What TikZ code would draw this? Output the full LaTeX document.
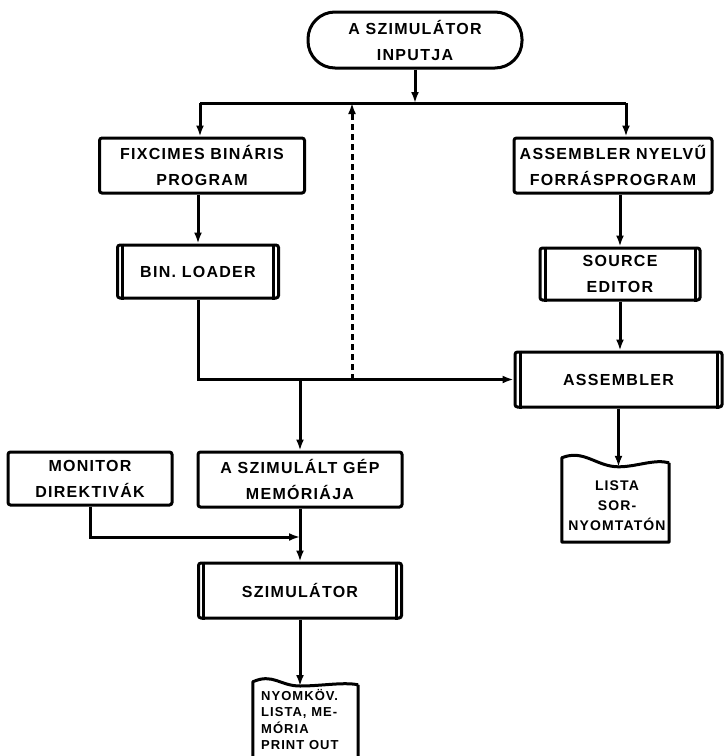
\documentclass[tikz,border=0pt]{standalone}
\usepackage{fontspec}
\setmainfont{Liberation Sans}[LetterSpace=8]
\usetikzlibrary{arrows.meta,calc}
\begin{document}
\begin{tikzpicture}[x=1pt,y=-1pt,
  ln/.style={line width=3pt},
  arr/.style={ln,-{Latex[length=11pt,width=8pt]}},
  boxstyle/.style={draw,ln,rounded corners=2.5pt,align=center,inner sep=0pt,
    font=\fontsize{16}{26}\bfseries\selectfont},
  doctext/.style={align=left,inner sep=0pt,font=\fontsize{13}{16.5}\bfseries\selectfont}
]
\useasboundingbox (0,0) rectangle (725,756);
\clip (0,0) rectangle (725,756);
\fill[white] (0,0) rectangle (725,756);

% nodes
\node[boxstyle,rounded corners=27pt,minimum width=214pt,minimum height=56pt] (top) at (415,40) {A SZIMULÁTOR\\INPUTJA};
\node[boxstyle,minimum width=205pt,minimum height=55pt] (fix) at (202,165.5) {FIXCIMES BINÁRIS\\PROGRAM};
\node[boxstyle,minimum width=198pt,minimum height=55pt] (src) at (613,165.5) {ASSEMBLER NYELVŰ\\FORRÁSPROGRAM};
\node[boxstyle,minimum width=161pt,minimum height=53pt] (binl) at (198,271.5) {BIN. LOADER};
\node[boxstyle,minimum width=160pt,minimum height=52pt] (srced) at (620,274) {SOURCE\\EDITOR};
\node[boxstyle,minimum width=207pt,minimum height=55pt] (asm) at (618.5,379.5) {ASSEMBLER};
\node[boxstyle,minimum width=164pt,minimum height=53pt] (mon) at (90,478.5) {MONITOR\\DIREKTIVÁK};
\node[boxstyle,minimum width=204pt,minimum height=55pt] (mem) at (300,479.5) {A SZIMULÁLT GÉP\\MEMÓRIÁJA};
\node[boxstyle,minimum width=203pt,minimum height=55pt] (szim) at (300,590.5) {SZIMULÁTOR};

% double side lines of the process boxes
\foreach \n in {binl,srced,asm,szim}{
  \draw[ln] ($(\n.north west)+(6.5,0)$) -- ($(\n.south west)+(6.5,0)$);
  \draw[ln] ($(\n.north east)+(-6.5,0)$) -- ($(\n.south east)+(-6.5,0)$);
}

% documents
\node[minimum width=107pt,minimum height=84pt,inner sep=0pt] (doc1) at (615.5,500) {};
\coordinate (dip1) at ($(doc1.north)+(3,9)$);
\node[doctext,align=center,font=\fontsize{14}{20}\bfseries\selectfont] (doc1t) at (617,506) {LISTA\\SOR-\\NYOMTATÓN};
\draw[ln,line join=round] ($(doc1.north east)+(0,5)$) -- (doc1.south east) -- (doc1.south west) -- (doc1.north west)
  .. controls +(22,-9) and +(-22,0) .. (dip1)
  .. controls +(18,0) and +(-15,-4) .. ($(doc1.north east)+(0,5)$);

\node[minimum width=105pt,minimum height=90pt,inner sep=0pt] (doc2) at (305.5,727) {};
\coordinate (dip2) at (300,686);
\node[doctext,anchor=north west] (doc2t) at (261,689) {NYOMKÖV.\\LISTA, ME-\\MÓRIA\\PRINT OUT};
\draw[ln,line join=round] ($(doc2.north east)+(0,3)$) -- (doc2.south east) -- (doc2.south west) -- (doc2.north west)
  .. controls +(20,-9) and +(-20,0) .. (dip2)
  .. controls +(22,0) and +(-15,-3) .. ($(doc2.north east)+(0,3)$);

% connectors
\coordinate (hl) at (200,103);
\coordinate (hr) at (626,103);
\coordinate (hm) at (352,103);
\coordinate (dm) at (352,380);
\coordinate (j) at (300,380);
\coordinate (j2) at (300,537);

\draw[arr] (top.south) -- (top.south |- hl);
\draw[ln] (hl) -- (hr);
\draw[arr] (hl) -- (hl |- fix.north);
\draw[arr] (hr) -- (hr |- src.north);
\draw[arr,dashed,dash pattern=on 6pt off 4pt] (dm) -- (hm);

\draw[arr] (fix.south -| binl.north) -- (binl.north);
\draw[arr] (binl.south) |- (asm.west);
\draw[arr] (j) -- (mem.north);

\draw[arr] (src.south -| srced.north) -- (srced.north);
\draw[arr] (srced.south) -- (srced.south |- asm.north);
\draw[arr] (asm.south -| dip1) -- (dip1);

\draw[arr] (mon.south) |- (j2);
\draw[arr] (mem.south) -- (szim.north);
\draw[arr] (szim.south) -- (dip2);
\end{tikzpicture}
\end{document}
